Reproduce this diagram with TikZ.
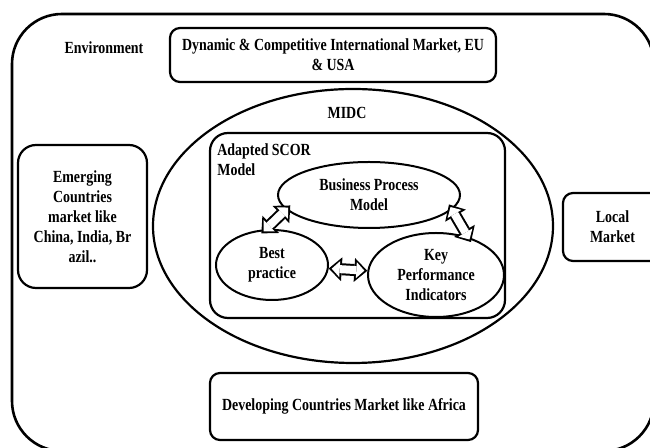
\documentclass[tikz,border=0pt]{standalone}
\usepackage{fontspec}
\setmainfont[FakeStretch=0.82]{Liberation Serif}
\usepackage{tikz}
\usetikzlibrary{shapes.geometric, arrows.meta, positioning}

\begin{document}
\begin{tikzpicture}[
    x=0.5pt, y=-0.5pt,
    every node/.style={font=\fontsize{8.5}{10}\selectfont\bfseries},
    box/.style={draw, rectangle, line width=1.1pt, align=center, rounded corners=5pt},
    ellip/.style={draw, ellipse, line width=1pt, align=center, inner sep=0pt},
    dblarrow/.style={line width=6pt, shorten <=-#1, shorten >=-#1,
        {Triangle[width=12pt,length=6.5pt,line width=0pt]}-{Triangle[width=12pt,length=6.5pt,line width=0pt]},
        postaction={draw=white, line width=4pt, shorten <=1.5pt-#1, shorten >=1.5pt-#1,
        {Triangle[width=8pt,length=4pt,line width=0pt]}-{Triangle[width=8pt,length=4pt,line width=0pt]}}},
    dblarrow/.default=0pt,
    outerframe/.style={line width=1.3pt, rounded corners=25pt}
]
\useasboundingbox (0,0) rectangle (650,448);
\clip (0,0) rectangle (650,448);

% Environment frame
\draw[outerframe] (12,14) rectangle (654,451);
\node (env) at (104,48) {Environment};

% Markets around
\node[box, minimum width=163pt, minimum height=27pt] (intl) at (333,55) {Dynamic \& Competitive International Market, EU\\\& USA};
\node[box, rounded corners=9pt, minimum width=64.5pt, minimum height=71.5pt] (emerging) at (82.5,216.5) {Emerging\\Countries\\market like\\China, India, Br\\azil..};
\node[box, minimum width=49.5pt, minimum height=34pt] (local) at (612.5,227) {Local\\Market};
\node[box, minimum width=134pt, minimum height=33.5pt] (africa) at (344,406.5) {Developing Countries Market like Africa};

% MIDC
\node[ellip, line width=1.1pt, minimum width=200pt, minimum height=137pt] (midc) at (353,226) {};
\node (midclabel) at (347,113) {MIDC};

% Adapted SCOR model
\node[box, rounded corners=9pt, minimum width=147.5pt, minimum height=92.5pt] (scor) at (357.5,225.5) {};
\node[anchor=north west, align=left, inner sep=1pt] (scorlabel) at (215,141) {Adapted SCOR\\Model};

\node[ellip, minimum width=91pt, minimum height=33pt] (bpm) at (369,195) {Business Process\\Model};
\node[ellip, minimum width=56pt, minimum height=35pt] (best) at (272,265) {Best\\practice};
\node[ellip, minimum width=68pt, minimum height=42pt] (kpi) at (436,275) {Key\\Performance\\Indicators};

% Arrows
\draw[dblarrow=3pt] (bpm.190) -- (best.100);
\draw[dblarrow=3pt] (bpm.350) -- (kpi.50);
\draw[dblarrow] (best) -- (kpi);

\end{tikzpicture}
\end{document}
